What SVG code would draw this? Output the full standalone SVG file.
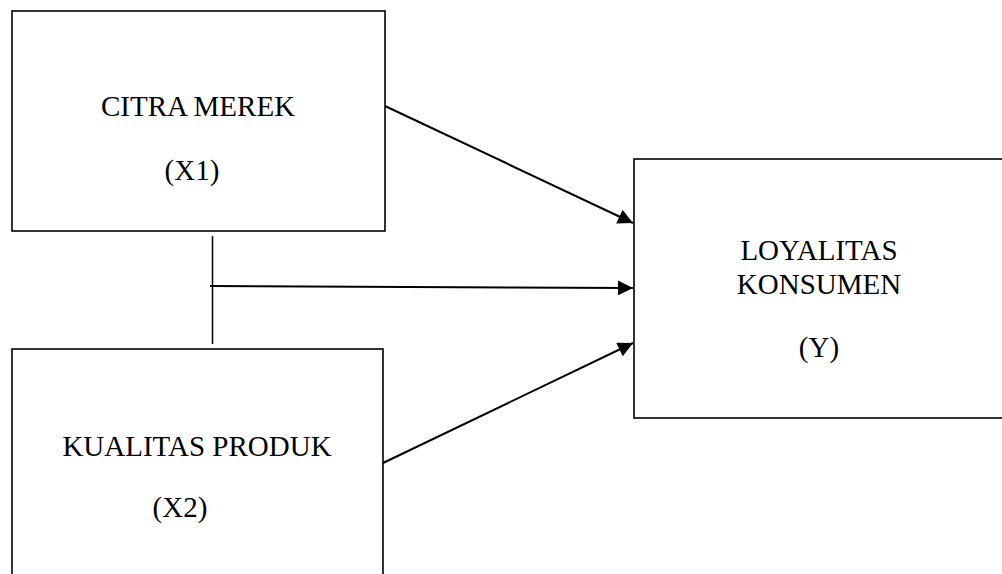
<svg xmlns="http://www.w3.org/2000/svg" width="1002" height="574" viewBox="0 0 1002 574">
<style>
.box{fill:#fff;stroke:#000;stroke-width:1.6}
.t{font-family:"Liberation Serif","Times New Roman",serif;font-size:29px;fill:#000;text-anchor:middle}
.ln{stroke:#000;stroke-width:2;fill:none}
.thin{stroke:#000;stroke-width:1.5;fill:none}
</style>
<defs>
<marker id="ah" viewBox="0 0 10 10" refX="10" refY="5" markerWidth="8.5" markerHeight="7.5" markerUnits="strokeWidth" orient="auto">
<path d="M0,0 L10,5 L0,10 Z" fill="#000"/>
</marker>
</defs>
<g id="citra">
<rect class="box" x="12" y="11" width="373" height="220"/>
<text class="t" x="198" y="116">CITRA MEREK</text>
<text class="t" x="192" y="180">(X1)</text>
</g>
<g id="kualitas">
<rect class="box" x="12" y="349" width="371" height="240"/>
<text class="t" x="197" y="456">KUALITAS PRODUK</text>
<text class="t" x="180" y="517">(X2)</text>
</g>
<g id="loyalitas">
<rect class="box" x="634" y="159" width="380" height="259"/>
<text class="t" x="819" y="260">LOYALITAS</text>
<text class="t" x="819" y="294">KONSUMEN</text>
<text class="t" x="819" y="357">(Y)</text>
</g>
<g id="connectors">
<line class="thin" x1="212.5" y1="236" x2="212.5" y2="344"/>
<line class="ln" x1="385" y1="106" x2="633" y2="223" marker-end="url(#ah)"/>
<line class="ln" x1="210" y1="286" x2="633" y2="288" marker-end="url(#ah)"/>
<line class="ln" x1="383" y1="463" x2="633" y2="343" marker-end="url(#ah)"/>
</g>
</svg>
